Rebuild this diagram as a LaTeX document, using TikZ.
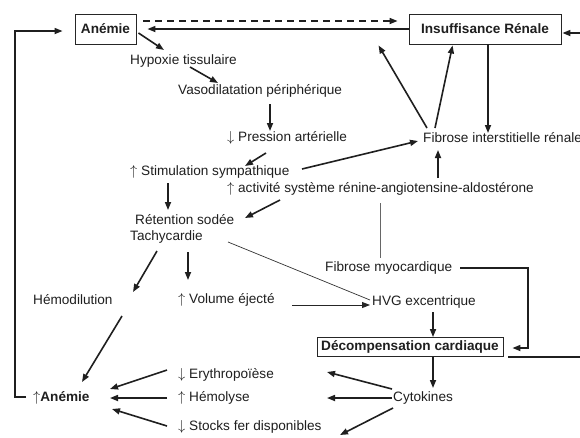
\documentclass[tikz,border=0pt]{standalone}
\usepackage{fontspec}
\setmainfont{Liberation Sans}
\usetikzlibrary{arrows.meta,calc}
\newcommand{\myup}{\raisebox{0.3pt}{$\uparrow$}}
\newcommand{\mydown}{\raisebox{0.3pt}{$\downarrow$}}
\tikzset{
  txt/.style={anchor=west,inner sep=0pt,font=\fontsize{13.6}{16}\selectfont,text=black!88},
  boxnode/.style={draw=black!85,line width=0.9pt,inner sep=0pt,font=\fontsize{13.6}{16}\selectfont\bfseries,text=black!88},
  arr/.style={line width=1.6pt,draw=black!88,-{Triangle[length=8pt,width=6pt]}},
  thinarr/.style={line width=0.9pt,draw=black!85,-{Triangle[length=8pt,width=6pt]}},
  thinline/.style={line width=0.7pt,draw=black!80},
  grayline/.style={line width=0.8pt,draw=black!60},
  dasharr/.style={line width=1.6pt,draw=black!88,dash pattern=on 7pt off 5pt,-{Triangle[length=8pt,width=6pt]}},
  plainthick/.style={line width=1.6pt,draw=black!88}
}
\begin{document}
\begin{tikzpicture}[x=1pt,y=-1pt]
\useasboundingbox (0,0) rectangle (580,437);
\clip (0,0) rectangle (580,437);
\fill[white] (0,0) rectangle (580,437);
% boxes
\node[boxnode,minimum width=61pt,minimum height=30pt] (anemie) at (105.5,29) {Anémie};
\node[boxnode,minimum width=152pt,minimum height=30pt] (ir) at (485,29) {Insuffisance Rénale};
\node[boxnode,minimum width=186pt,minimum height=19pt] (decomp) at (410,347) {Décompensation cardiaque};
% text nodes
\node[txt] (hyp) at (130,61) {Hypoxie tissulaire};
\node[txt] (vaso) at (178,91) {Vasodilatation périphérique};
\node[txt] (press) at (227,138) {\mydown{} Pression artérielle};
\node[txt] (fir) at (423,138) {Fibrose interstitielle rénale};
\node[txt] (stim) at (130,172) {\myup{} Stimulation sympathique};
\node[txt] (raa) at (227,189) {\myup{} activité système rénine-angiotensine-aldostérone};
\node[txt] (ret) at (135,220) {Rétention sodée};
\node[txt] (tachy) at (130,237) {Tachycardie};
\node[txt] (fmyo) at (325,268) {Fibrose myocardique};
\node[txt] (hemod) at (33,300) {Hémodilution};
\node[txt] (vol) at (178,300) {\myup{} Volume éjecté};
\node[txt] (hvg) at (372,302) {HVG excentrique};
\node[txt] (cyto) at (393,398) {Cytokines};
\node[txt] (ery) at (178,375) {\mydown{} Erythropoïèse};
\node[txt] (hemol) at (178,398) {\myup{} Hémolyse};
\node[txt] (stocks) at (178,427) {\mydown{} Stocks fer disponibles};
\node[txt] (anemie2) at (33,398) {\myup\textbf{Anémie}};
% corner coordinates
\coordinate (rc) at (592,357);
\coordinate (fc) at (528,268);
\coordinate (lc) at (15,397);
% top connectors
\draw[dasharr] ($(anemie.east)+(7,-8)$) -- ($(ir.west)+(-11,-8)$);
\draw[arr] (ir.west) -- ($(anemie.east)+(11,0)$);
\draw[arr] ($(anemie.east)+(2,4)$) -- ($(hyp.west)+(34,-11)$);
\draw[arr] ($(hyp.west)+(60,6)$) -- ($(vaso.west)+(40,-8)$);
\draw[arr] ($(vaso.west)+(92,13)$) -- ($(press.west)+(43,-7)$);
\draw[arr] ($(press.west)+(39,15)$) -- ($(stim.west)+(115,-6)$);
\draw[arr] ($(stim.west)+(172,-3)$) -- ($(fir.west)+(-5,3)$);
\draw[arr] ($(raa.west)+(211,-11)$) -- ($(fir.west)+(15,12)$);
\draw[arr] ($(fir.west)+(4,-10)$) -- ($(ir.south west)+(-30,1)$);
\draw[arr] ($(fir.west)+(12,-10)$) -- ($(ir.south west)+(44,1)$);
\draw[arr] ($(ir.south)+(3,0)$) -- ($(fir.west)+(65,-5)$);
\draw[arr] ($(decomp.east)+(5,10)$) -- (rc) |- ($(ir.east)+(1,4)$);
% middle
\draw[arr] ($(stim.west)+(38,11)$) -- ($(ret.west)+(33,-10)$);
\draw[arr] ($(raa.west)+(53,11)$) -- ($(ret.west)+(110,-2)$);
\draw[thinline] ($(tachy.west)+(98,5)$) -- ($(hvg.west)+(-2,-2)$);
\draw[thinarr] ($(vol.west)+(114,5)$) -- ($(hvg.west)+(-2,3)$);
\draw[arr] ($(tachy.west)+(27,14)$) -- ($(hemod.west)+(100,-8)$);
\draw[arr] ($(tachy.west)+(58,15)$) -- ($(vol.west)+(10,-20)$);
\draw[arr] ($(hemod.west)+(89,16)$) -- ($(anemie2.west)+(49,-16)$);
\draw[grayline] ($(raa.west)+(153,14)$) -- ($(fmyo.west)+(55,-10)$);
\draw[arr] ($(fmyo.west)+(135,0)$) -- (fc) |- ($(decomp.east)+(9,1)$);
\draw[arr] ($(hvg.west)+(61,10)$) -- ($(decomp.north)+(23,0)$);
\draw[arr] ($(decomp.south)+(23,0)$) -- ($(cyto.west)+(40,-10)$);
% bottom
\draw[arr] ($(cyto.west)+(-1,-9)$) -- ($(ery.west)+(149,-3)$);
\draw[arr] ($(cyto.west)+(-1,0)$) -- ($(hemol.west)+(149,0)$);
\draw[arr] ($(cyto.west)+(0,10)$) -- ($(stocks.west)+(162,8)$);
\draw[arr] ($(ery.west)+(-11,-5)$) -- ($(anemie2.west)+(77,-9)$);
\draw[arr] ($(hemol.west)+(-11,0)$) -- ($(anemie2.west)+(77,0)$);
\draw[arr] ($(stocks.west)+(-11,-1)$) -- ($(anemie2.west)+(79,11)$);
\draw[arr] ($(anemie2.west)+(-7,-1)$) -- (lc) |- ($(anemie.west)+(-12,2)$);
\end{tikzpicture}
\end{document}
